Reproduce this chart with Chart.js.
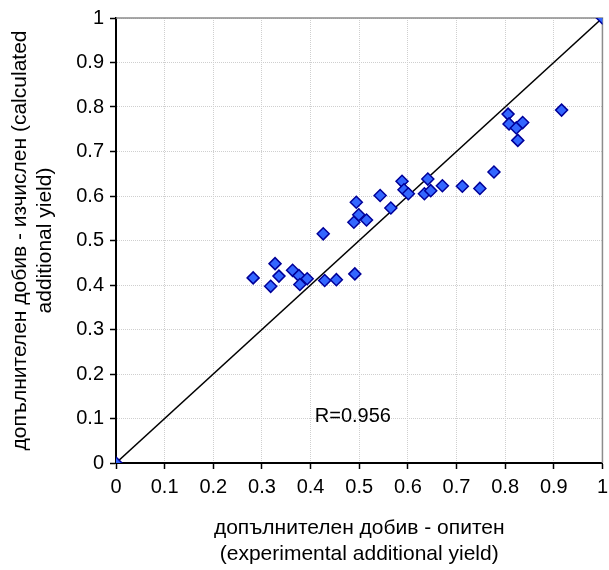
<!DOCTYPE html>
<html>
<head>
    <title>Допълнителен добив</title>
    <script src="https://cdn.jsdelivr.net/npm/chart.js"></script>
    <style>
        html, body { margin: 0; padding: 0; background: #ffffff; overflow: hidden; }
        #wrap { width: 609px; height: 570px; overflow: hidden; }
    </style>
</head>
<body>
    <!-- платното е малко по-широко; последният надпис на оста x се отрязва -->
    <div id="wrap"><canvas id="yieldChart" width="614" height="570"></canvas></div>

    <script>
        // опитен (x) / изчислен (y) допълнителен добив
        const experimental = [0, 0.282, 0.318, 0.327, 0.335, 0.363, 0.376, 0.378, 0.393, 0.426, 0.429, 0.453,
            0.491, 0.494, 0.489, 0.499, 0.515, 0.543, 0.565, 0.588, 0.592, 0.601, 0.641, 0.634, 0.647,
            0.671, 0.712, 0.748, 0.777, 0.806, 0.808, 0.823, 0.836, 0.826, 0.916, 1];
        const calculated = [0, 0.416, 0.397, 0.448, 0.420, 0.433, 0.421, 0.401, 0.414, 0.515, 0.410, 0.412,
            0.425, 0.586, 0.541, 0.558, 0.546, 0.601, 0.573, 0.633, 0.614, 0.605, 0.638, 0.605, 0.612,
            0.623, 0.622, 0.617, 0.654, 0.784, 0.762, 0.753, 0.765, 0.725, 0.793, 1];
        const identityLine = [[0, 0], [1, 1]];
        const axisTicks = [0, 0.1, 0.2, 0.3, 0.4, 0.5, 0.6, 0.7, 0.8, 0.9, 1];
        const rLabel = { text: 'R=0.956', x: 0.487, y: 0.105 };

        const fontFamily = '"Liberation Sans", Arial, sans-serif';

        // сива рамка отгоре и отдясно на полето
        const framePlugin = {
            id: 'frame',
            beforeDatasetsDraw(chart) {
                const a = chart.chartArea;
                const c = chart.ctx;
                c.save();
                c.strokeStyle = '#8c8c8c';
                c.lineWidth = 1.5;
                c.beginPath();
                c.moveTo(a.left, a.top);
                c.lineTo(a.right, a.top);
                c.lineTo(a.right, a.bottom);
                c.stroke();
                c.restore();
            }
        };

        // надпис за коефициента на корелация
        const rTextPlugin = {
            id: 'rText',
            afterDatasetsDraw(chart) {
                const c = chart.ctx;
                c.save();
                c.font = '20px ' + fontFamily;
                c.fillStyle = '#000';
                c.textAlign = 'center';
                c.textBaseline = 'middle';
                c.fillText(rLabel.text, chart.scales.x.getPixelForValue(rLabel.x), chart.scales.y.getPixelForValue(rLabel.y));
                c.restore();
            }
        };

        const axisCommon = {
            type: 'linear',
            min: 0,
            max: 1,
            afterBuildTicks(scale) {
                scale.ticks = axisTicks.map(v => ({ value: v }));
            },
            grid: {
                color: '#cfcfcf',
                lineWidth: 1,
                tickColor: '#000',
                tickLength: 6,
                tickWidth: 1.5
            },
            border: { display: true, color: '#000', width: 2, dash: [1, 1] },
            ticks: {
                color: '#000',
                font: { family: fontFamily, size: 20 },
                callback: v => String(v)
            },
            title: {
                display: true,
                color: '#000',
                font: { family: fontFamily, size: 21, lineHeight: 1.22 }
            }
        };

        const ctx = document.getElementById('yieldChart').getContext('2d');
        new Chart(ctx, {
            type: 'scatter',
            data: {
                datasets: [
                    {
                        data: experimental.map((x, i) => ({ x: x, y: calculated[i] })),
                        pointStyle: 'rectRot',
                        pointRadius: 6,
                        pointHoverRadius: 6,
                        backgroundColor: '#3366ff',
                        borderColor: '#000099',
                        borderWidth: 1.5,
                        order: 1
                    },
                    {
                        data: identityLine.map(p => ({ x: p[0], y: p[1] })),
                        showLine: true,
                        borderColor: '#000',
                        borderWidth: 1.5,
                        pointRadius: 0,
                        order: 2
                    }
                ]
            },
            options: {
                responsive: false,
                animation: false,
                layout: { padding: { top: 17, right: 0, left: 0, bottom: 0 } },
                plugins: {
                    legend: { display: false },
                    tooltip: { enabled: false }
                },
                scales: {
                    x: {
                        ...axisCommon,
                        ticks: { ...axisCommon.ticks, padding: 6 },
                        title: { ...axisCommon.title, text: ['допълнителен добив - опитен', '(experimental additional yield)'], padding: { top: 6, bottom: 3 } },
                        afterFit(scale) { scale.height = 107; }
                    },
                    y: {
                        ...axisCommon,
                        ticks: { ...axisCommon.ticks, padding: 6 },
                        title: { ...axisCommon.title, text: ['допълнителен добив - изчислен (calculated', 'additional yield)'], padding: { top: 7, bottom: 3 } },
                        afterFit(scale) { scale.width = 116; }
                    }
                }
            },
            plugins: [framePlugin, rTextPlugin]
        });
    </script>
</body>
</html>
